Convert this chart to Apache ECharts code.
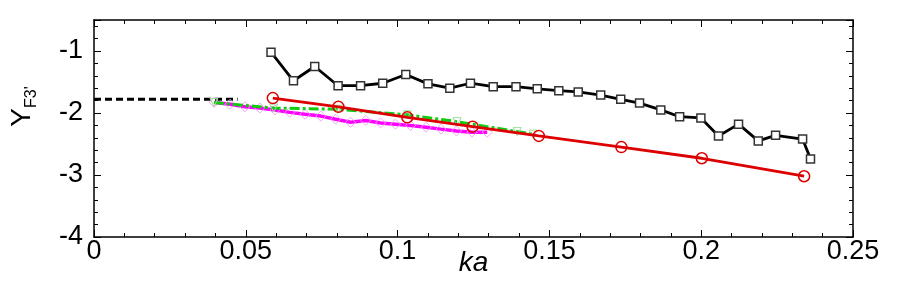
<!DOCTYPE html>
<html>
<head>
<meta charset="utf-8">
<script src="https://cdn.jsdelivr.net/npm/echarts@6/dist/echarts.min.js"></script>
<style>html,body{margin:0;padding:0;background:#fff;}#c{width:900px;height:300px;}</style>
</head>
<body>
<div id="c"></div>
<script>
// x ticks / y ticks
const xTicks = [0, 0.05, 0.1, 0.15, 0.2, 0.25];
const yTicks = [-4, -3, -2, -1];

// black squares series
const blackKa = [0.0583,0.0657,0.0727,0.0804,0.0878,0.0951,0.1027,0.1100,0.1172,0.1240,0.1315,0.1390,0.1460,0.1531,0.1595,0.1669,0.1735,0.1797,0.1867,0.1929,0.1999,0.2057,0.2123,0.2188,0.2245,0.2334,0.2360];
const blackY  = [-1.02,-1.48,-1.25,-1.56,-1.56,-1.52,-1.38,-1.53,-1.60,-1.52,-1.575,-1.575,-1.61,-1.64,-1.66,-1.71,-1.78,-1.84,-1.95,-2.06,-2.08,-2.37,-2.18,-2.45,-2.36,-2.42,-2.74];

// red circles series
const redKa = [0.0589,0.0805,0.1032,0.1247,0.1465,0.1737,0.2002,0.2339];
const redY  = [-1.76,-1.90,-2.07,-2.22,-2.37,-2.55,-2.73,-3.02];

// magenta diamonds series
const magKa = [0.0396,0.0448,0.0497,0.0546,0.0596,0.0645,0.0695,0.0747,0.0796,0.0845,0.0895,0.0944,0.0993,0.1043,0.1094,0.1143,0.1194,0.1245,0.1295];
const magY  = [-1.83,-1.86,-1.90,-1.92,-1.95,-1.99,-2.02,-2.05,-2.10,-2.15,-2.12,-2.16,-2.18,-2.20,-2.23,-2.26,-2.29,-2.31,-2.31];

// green dash-dot series
const greenKa = [0.0395,0.0592,0.0803,0.1032,0.1196,0.1394,0.1447];
const greenY  = [-1.83,-1.92,-1.94,-2.03,-2.14,-2.30,-2.34];

// black dashed reference
const refKa = [0, 0.0473];
const refY  = [-1.78, -1.78];

const zip = (a, b) => a.map((v, i) => [v, b[i]]);
const FONT = 'Liberation Sans';

const chart = echarts.init(document.getElementById('c'), null, {renderer: 'canvas'});
const axisCommon = {
  axisLine: {show: true, onZero: false, lineStyle: {color: '#000', width: 1.5}},
  axisTick: {show: true, inside: true, length: 7, lineStyle: {color: '#000', width: 1}},
  minorTick: {show: true, splitNumber: 5, length: 4, lineStyle: {color: '#000', width: 1}},
  splitLine: {show: false}
};
chart.setOption({
  animation: false,
  backgroundColor: '#fff',
  grid: {left: 93, right: 47, top: 20, bottom: 63, containLabel: false},
  xAxis: [
    Object.assign({}, axisCommon, {
      type: 'value', position: 'bottom', min: xTicks[0], max: xTicks[xTicks.length - 1], interval: 0.05,
      axisLabel: {fontFamily: FONT, fontSize: 27, color: '#000', margin: 1,
        formatter: v => String(+v.toFixed(2))},
      name: 'ka', nameLocation: 'middle', nameGap: 12, nameMoveOverlap: false,
      nameTextStyle: {fontFamily: FONT, fontSize: 28, fontStyle: 'italic', color: '#000', verticalAlign: 'top'}
    }),
    Object.assign({}, axisCommon, {
      type: 'value', position: 'top', min: xTicks[0], max: xTicks[xTicks.length - 1], interval: 0.05,
      axisLabel: {show: false}
    })
  ],
  yAxis: [
    Object.assign({}, axisCommon, {
      type: 'value', position: 'left', min: yTicks[0], max: -0.5, interval: 1,
      axisLabel: {fontFamily: FONT, fontSize: 27, color: '#000', margin: 11, showMaxLabel: false,
        formatter: v => (Number.isInteger(v) ? String(v) : '')},
      name: '{pad|}{g|Y}{s|F3\'}', nameLocation: 'middle', nameGap: 58, nameRotate: 90, nameMoveOverlap: false,
      nameTextStyle: {
        rich: {
          pad: {width: 44},
          g: {fontFamily: FONT, fontSize: 28, color: '#000', lineHeight: 32, verticalAlign: 'bottom'},
          s: {fontFamily: FONT, fontSize: 16, color: '#000', lineHeight: 32, verticalAlign: 'bottom', padding: [0, 0, -4, 0]}
        }
      }
    }),
    Object.assign({}, axisCommon, {
      type: 'value', position: 'right', min: yTicks[0], max: -0.5, interval: 1,
      axisLabel: {show: false}
    })
  ],
  series: [
    {
      type: 'line', data: zip(refKa, refY), symbol: 'none',
      lineStyle: {color: '#000', width: 3, type: [7, 4]}, z: 2
    },
    {
      type: 'line', data: zip(magKa, magY), symbol: 'diamond', symbolSize: 10,
      itemStyle: {color: 'rgba(255,255,255,0)', borderColor: '#f2a6f2', borderWidth: 1},
      lineStyle: {color: '#ff00ff', width: 3.5}, z: 3
    },
    {
      type: 'line', data: zip(greenKa, greenY), symbol: 'triangle', symbolRotate: 180, symbolSize: 8,
      itemStyle: {color: 'rgba(255,255,255,0)', borderColor: '#99e099', borderWidth: 1},
      lineStyle: {color: '#11cc11', width: 3, type: [10, 3, 3, 3]}, z: 4
    },
    {
      type: 'line', data: zip(redKa, redY), symbol: 'circle', symbolSize: 11,
      itemStyle: {color: 'rgba(255,255,255,0)', borderColor: '#dd0000', borderWidth: 1.5},
      lineStyle: {color: '#dd0000', width: 2.8}, z: 5
    },
    {
      type: 'line', data: zip(blackKa, blackY), symbol: 'rect', symbolSize: 8,
      itemStyle: {color: '#fff', borderColor: '#333', borderWidth: 1.5},
      lineStyle: {color: '#000', width: 2.8}, z: 6
    }
  ]
});
</script>
</body>
</html>
